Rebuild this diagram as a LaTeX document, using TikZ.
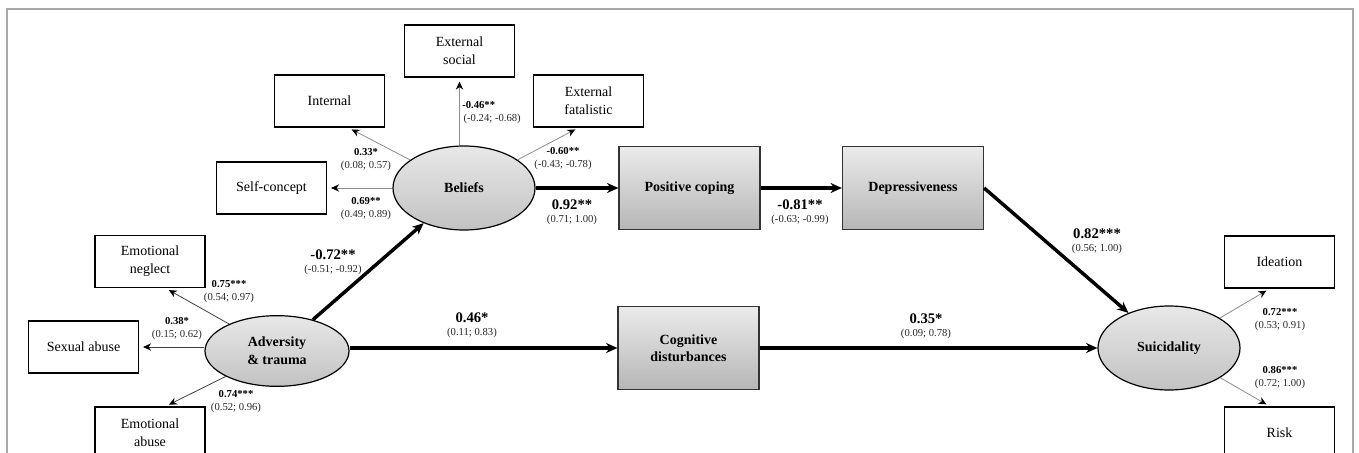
\documentclass[tikz,border=0pt]{standalone}
\usepackage{fontspec}
\setmainfont{Liberation Serif}
\usetikzlibrary{arrows.meta, positioning, shapes.geometric}
\definecolor{boxtop}{HTML}{EBEBEB}
\definecolor{boxbot}{HTML}{B6B6B6}
\definecolor{elltop}{HTML}{E8E8E8}
\definecolor{ellbot}{HTML}{C2C2C2}
\definecolor{loadgray}{HTML}{8C8C8C}
\definecolor{framegray}{HTML}{A8A8A8}

\begin{document}
\begin{tikzpicture}[x=0.75pt, y=-0.75pt,
    item/.style={draw=black, line width=0.9pt, fill=white, align=center,
        minimum width=82.5pt, minimum height=39pt, inner sep=1pt,
        font=\fontsize{10.5}{13.5}\selectfont},
    factor/.style={draw=black!80, line width=0.9pt, top color=boxtop,
        bottom color=boxbot, align=center, minimum width=105.75pt,
        minimum height=62.25pt, font=\fontsize{10.5}{13}\selectfont\bfseries},
    latent/.style={ellipse, draw=black, line width=0.9pt, top color=elltop,
        bottom color=ellbot, align=center, minimum width=106.5pt,
        minimum height=63pt, inner sep=0pt,
        font=\fontsize{10.5}{13.5}\selectfont\bfseries},
    strong/.style={line width=2.6pt, -{Stealth[length=8.5pt, width=7.5pt]}},
    load/.style={line width=0.6pt, draw=loadgray,
        -{Stealth[length=6pt, width=5.5pt, color=black]}, shorten >=3pt},
    loaddk/.style={load, draw=black!75},
    est/.style={font=\fontsize{11}{12}\selectfont\bfseries, inner sep=0pt},
    estsm/.style={font=\fontsize{8}{9}\selectfont\bfseries, inner sep=0pt},
    ci/.style={font=\fontsize{8}{9}\selectfont, text=black!85, inner sep=0pt,
        below=3.8pt}]

    \clip (0,0) rectangle (1359,453);
    \draw[framegray, line width=1.1pt] (7,453) -- (7,9) -- (1353,9) -- (1353,453);

    % beliefs and its indicators
    \node[latent] (beliefs) at (464,188) {Beliefs};
    \node[item] (extsoc) at (459.5,51) {External\\social};
    \node[item] (internal) at (329.5,101) {Internal};
    \node[item] (extfat) at (588.5,101) {External\\fatalistic};
    \node[item] (selfcon) at (271.5,188) {Self-concept};

    % mediators
    \node[factor] (poscop) at (689.5,188) {Positive coping};
    \node[factor] (depress) at (913,188) {Depressiveness};
    \node[factor] (cogdis) at (688.5,348) {Cognitive\\disturbances};

    % adversity and its indicators
    \node[latent, minimum width=108pt, minimum height=53pt] (adv) at (277,351) {Adversity\\\& trauma};
    \node[item] (emoneg) at (150,261.5) {Emotional\\neglect};
    \node[item] (sexab) at (83.5,347) {Sexual abuse};
    \node[item] (emoab) at (150,433) {Emotional\\abuse};

    % outcome
    \node[latent] (suic) at (1169,348) {Suicidality};
    \node[item] (ideation) at (1279.5,262) {Ideation};
    \node[item] (risk) at (1279.5,433) {Risk};

    \draw[strong] (beliefs) -- (poscop);
    \draw[strong] (poscop) -- (depress);
    \draw[strong] (depress.east) -- (suic);
    \draw[strong] (adv) -- (beliefs);
    \draw[strong] (adv.east |- cogdis) -- (cogdis);
    \draw[strong] (cogdis) -- (suic);

    \draw[load] (beliefs.north -| extsoc) -- (extsoc);
    \draw[load] (beliefs) -- (internal.305);
    \draw[load] (beliefs) -- (selfcon);
    \draw[load] (beliefs) -- (extfat.250);
    \draw[loaddk] (adv) -- (emoneg.300);
    \draw[loaddk] (sexab -| adv.west) -- (sexab);
    \draw[loaddk] (adv) -- (emoab.60);
    \draw[load] (suic) -- (ideation.250);
    \draw[load] (suic) -- (risk.110);

    % path estimates
    \node[est] (bp) at (572,205) {0.92**};
    \node[ci] (bpci) at (bp.south) {(0.71; 1.00)};
    \node[est] (pd) at (800,205) {-0.81**};
    \node[ci] (pdci) at (pd.south) {(-0.63; -0.99)};
    \node[est] (ds) at (1097,234) {0.82***};
    \node[ci] (dsci) at (ds.south) {(0.56; 1.00)};
    \node[est] (ab) at (333,255) {-0.72**};
    \node[ci] (abci) at (ab.south) {(-0.51; -0.92)};
    \node[est] (ac) at (472,318) {0.46*};
    \node[ci] (acci) at (ac.south) {(0.11; 0.83)};
    \node[est] (cs) at (926,319) {0.35*};
    \node[ci] (csci) at (cs.south) {(0.09; 0.78)};

    % loadings
    \node[estsm] (lint) at (366,152) {0.33*};
    \node[ci] (lintci) at (lint.south) {(0.08; 0.57)};
    \node[estsm] (lself) at (366,201) {0.69**};
    \node[ci] (lselfci) at (lself.south) {(0.49; 0.89)};
    \node[estsm, anchor=west] (lsoc) at (462,105) {-0.46**};
    \node[ci, anchor=north west] (lsocci) at ([xshift=1pt]lsoc.south west) {(-0.24; -0.68)};
    \node[estsm] (lfat) at (563,151) {-0.60**};
    \node[ci] (lfatci) at (lfat.south) {(-0.43; -0.78)};
    \node[estsm] (lneg) at (229,284) {0.75***};
    \node[ci] (lnegci) at (lneg.south) {(0.54; 0.97)};
    \node[estsm] (lsex) at (177,321) {0.38*};
    \node[ci] (lsexci) at (lsex.south) {(0.15; 0.62)};
    \node[estsm] (labu) at (236,394) {0.74***};
    \node[ci] (labuci) at (labu.south) {(0.52; 0.96)};
    \node[estsm] (lide) at (1280,312) {0.72***};
    \node[ci] (lideci) at (lide.south) {(0.53; 0.91)};
    \node[estsm] (lrisk) at (1280,370) {0.86***};
    \node[ci] (lriskci) at (lrisk.south) {(0.72; 1.00)};

\end{tikzpicture}
\end{document}
